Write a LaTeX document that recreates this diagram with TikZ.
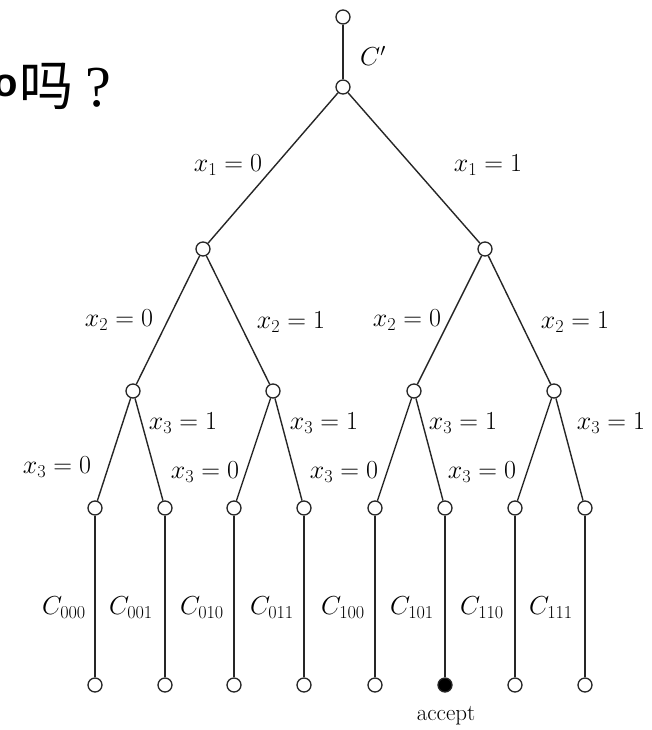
\RequirePackage{fix-cm}
\documentclass[tikz,border=0pt]{standalone}
\usepackage{fontspec}
\newfontfamily\cjk{Noto Sans CJK SC}
\newfontfamily\qfont{Liberation Serif}
\newfontfamily\ofont{Liberation Sans}
\begin{document}
\begin{tikzpicture}[x=1pt,y=-1pt,
  vert/.style={circle,draw=black!85,line width=1.3pt,fill=white,minimum size=14pt,inner sep=0pt},
  acc/.style={vert,fill=black},
  edge/.style={draw=black!85,line width=1.4pt},
  lab/.style={inner sep=0pt,font=\fontsize{26}{30}\selectfont},
  clab/.style={lab,anchor=east}]
\useasboundingbox (0,0) rectangle (652,730);
% heading fragment
\node[inner sep=0pt,anchor=base east,font=\fontsize{40}{44}\selectfont\ofont\bfseries] (ofrag) at (18,97) {o};
\node[inner sep=0pt,anchor=base west,font=\fontsize{54}{58}\selectfont\cjk] (ma) at (19,106) {吗};
\node[inner sep=0pt,anchor=base west,font=\fontsize{58}{62}\selectfont\qfont] (qm) at (85,107) {?};
% vertices
\node[vert] (t) at (343,17) {};
\node[vert] (r) at (343,87) {};
\node[vert] (a0) at (203,249) {};
\node[vert] (a1) at (485,249) {};
\node[vert] (b00) at (133,391) {};
\node[vert] (b01) at (273,391) {};
\node[vert] (b10) at (414,391) {};
\node[vert] (b11) at (554,391) {};
\foreach \i/\x in {000/95,001/165,010/234,011/304,100/375,101/445,110/515,111/585}{
  \node[vert] (c\i) at (\x,508) {};
}
\node[vert] (l000) at (95,685) {};
\node[vert] (l001) at (165,685) {};
\node[vert] (l010) at (234,685) {};
\node[vert] (l011) at (304,685) {};
\node[vert] (l100) at (375,685) {};
\node[acc]  (l101) at (445,685) {};
\node[vert] (l110) at (515,685) {};
\node[vert] (l111) at (585,685) {};
% edges
\path[edge] (t) -- (r);
\path[edge] (r) -- (a0);
\path[edge] (r) -- (a1);
\path[edge] (a0) -- (b00);
\path[edge] (a0) -- (b01);
\path[edge] (a1) -- (b10);
\path[edge] (a1) -- (b11);
\path[edge] (b00) -- (c000);
\path[edge] (b00) -- (c001);
\path[edge] (b01) -- (c010);
\path[edge] (b01) -- (c011);
\path[edge] (b10) -- (c100);
\path[edge] (b10) -- (c101);
\path[edge] (b11) -- (c110);
\path[edge] (b11) -- (c111);
\foreach \i in {000,001,010,011,100,101,110,111}{
  \path[edge] (c\i) -- (l\i);
}
% labels
\node[lab] (lc) at (373,56) {$C'$};
\node[lab] (lx10) at (228,165) {$x_1=0$};
\node[lab] (lx11) at (488,165) {$x_1=1$};
\node[lab] (lx20a) at (119,320) {$x_2=0$};
\node[lab] (lx21a) at (291,322) {$x_2=1$};
\node[lab] (lx20b) at (407,320) {$x_2=0$};
\node[lab] (lx21b) at (575,322) {$x_2=1$};
\node[lab] (lx31a) at (183,423) {$x_3=1$};
\node[lab] (lx31b) at (324,423) {$x_3=1$};
\node[lab] (lx31c) at (463,423) {$x_3=1$};
\node[lab] (lx31d) at (611,423) {$x_3=1$};
\node[lab] (lx30a) at (57,467) {$x_3=0$};
\node[lab] (lx30b) at (205,472) {$x_3=0$};
\node[lab] (lx30c) at (344,472) {$x_3=0$};
\node[lab] (lx30d) at (482,472) {$x_3=0$};
\node[clab] (k000) at (86,608) {$C_{000}$};
\node[clab] (k001) at (153,608) {$C_{001}$};
\node[clab] (k010) at (224,608) {$C_{010}$};
\node[clab] (k011) at (294,608) {$C_{011}$};
\node[clab] (k100) at (365,608) {$C_{100}$};
\node[clab] (k101) at (434,608) {$C_{101}$};
\node[clab] (k110) at (504,608) {$C_{110}$};
\node[clab] (k111) at (573,608) {$C_{111}$};
\node[lab,font=\fontsize{23}{27}\selectfont] (accept) at (446,716) {accept};
\end{tikzpicture}
\end{document}
